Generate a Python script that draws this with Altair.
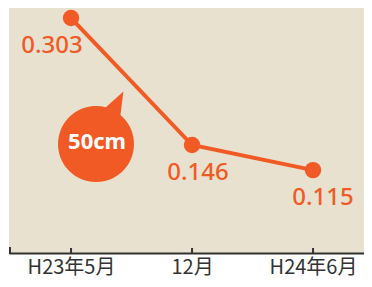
import altair as alt
import pandas as pd

# data
periods = ["H23年5月", "12月", "H24年6月"]
values = [0.303, 0.146, 0.115]
labels = ["0.303", "0.146", "0.115"]

bubble_text = ["50cm"]
bubble_period = ["H23年5月"]
bubble_value = [0.1472]

ORANGE = "#F15A24"
BEIGE = "#E8E1CF"
W, H = 355, 245

df = pd.DataFrame({"period": periods, "value": values, "label": labels, "idx": [0, 1, 2]})
bdf = pd.DataFrame({"period": bubble_period, "value": bubble_value, "text": bubble_text})

x = alt.X("period:N", sort=periods,
          scale=alt.Scale(type="point", padding=0.467, align=0.549),
          axis=alt.Axis(title=None, labelAngle=0, ticks=False, tickSize=0, grid=False,
                        domainColor="#333333", domainWidth=2,
                        labelFont="Noto Sans CJK JP", labelFontSize=20,
                        labelColor="#333333", labelPadding=4, labelBaseline="top"))
y = alt.Y("value:Q", scale=alt.Scale(domain=[0.0125, 0.3154], nice=False, zero=False),
          axis=None)

base = alt.Chart(df)

line = base.mark_line(color=ORANGE, strokeWidth=4).encode(x=x, y=y)
pts = base.mark_circle(color=ORANGE, size=270, opacity=1).encode(x=x, y=y)

ticks = base.mark_rule(color="#333333", strokeWidth=2).encode(
    x=x, y=alt.value(H - 5), y2=alt.value(H))
left_tick = base.mark_rule(color="#333333", strokeWidth=2).encode(
    x=alt.value(1), y=alt.value(H - 6), y2=alt.value(H + 1))

text_style = dict(color=ORANGE, font="Noto Sans", fontSize=24, fontWeight=500,
                  align="center", baseline="middle")
offsets = [(-19, 28), (6, 28), (10, 28)]
text_layers = [
    base.transform_filter(alt.datum.idx == i).mark_text(dx=dx, dy=dy, **text_style)
    .encode(x=x, y=y, text="label:N")
    for i, (dx, dy) in enumerate(offsets)
]

bubble_path = ("M 0.259 -0.966 L 0.72 -1.38 L 0.643 -0.766 "
               "A 1 1 0 1 1 0.259 -0.966 Z")
bubble = alt.Chart(bdf).mark_point(shape=bubble_path, filled=True, color=ORANGE,
                                   opacity=1, size=5776, xOffset=25).encode(x=x, y=y)
bubble_txt = alt.Chart(bdf).mark_text(color="white", font="Noto Sans", fontSize=22,
                                      fontWeight="bold", align="center",
                                      baseline="middle", dx=26, dy=-2).encode(
    x=x, y=y, text="text:N")

chart = alt.layer(ticks, left_tick, line, pts, bubble, bubble_txt, *text_layers).properties(
    width=W, height=H,
    autosize=alt.AutoSizeParams(type="none"),
    padding={"left": 1, "top": 0, "right": 0, "bottom": 25},
    background="white",
).configure_view(fill=BEIGE, stroke=None)

chart.save("out.html", embed_options={"renderer": "svg", "actions": False})
